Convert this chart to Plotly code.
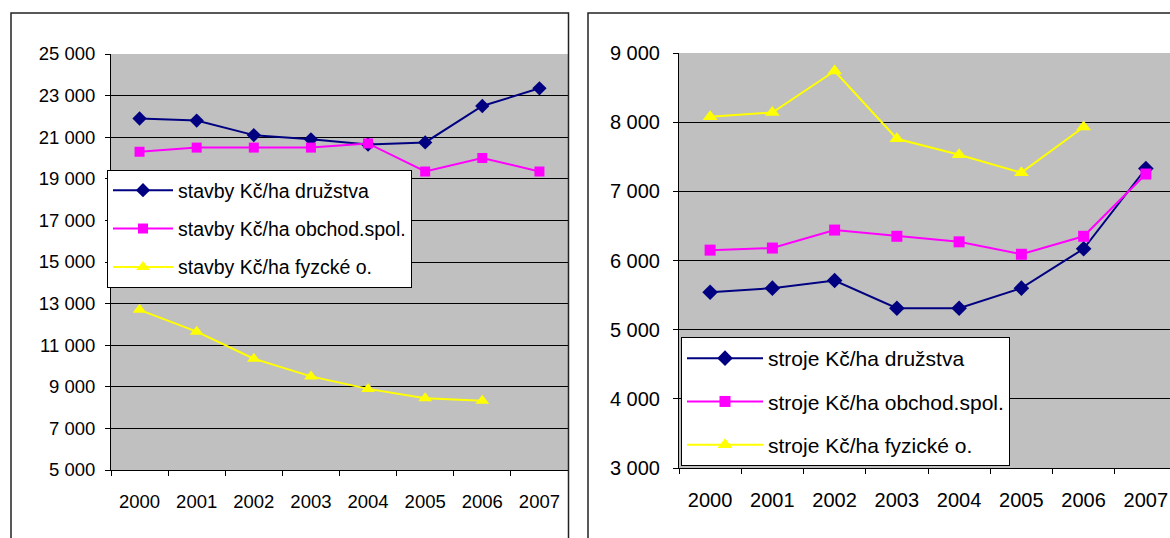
import plotly.graph_objects as go

years = ["2000", "2001", "2002", "2003", "2004", "2005", "2006", "2007"]

stavby_druzstva = [21900, 21800, 21100, 20900, 20650, 20750, 22500, 23350]
stavby_obchod = [20300, 20500, 20500, 20500, 20700, 19350, 20000, 19350]
stavby_fyzicke = [12700, 11650, 10350, 9500, 8900, 8450, 8330, None]

stroje_druzstva = [5540, 5600, 5710, 5310, 5310, 5600, 6170, 7330]
stroje_obchod = [6150, 6180, 6440, 6350, 6270, 6090, 6350, 7250]
stroje_fyzicke = [8080, 8140, 8740, 7760, 7530, 7270, 7930, None]

names_left = ["stavby Kč/ha družstva", "stavby Kč/ha obchod.spol.", "stavby Kč/ha fyzcké o."]
names_right = ["stroje Kč/ha družstva", "stroje Kč/ha obchod.spol.", "stroje Kč/ha fyzické o."]

colors = ["#000080", "#FF00FF", "#FFFF00"]
symbols = ["diamond", "square", "triangle-up"]
msizes = [11, 10, 12]

W, H = 1170, 538
FONT = "Liberation Sans, Arial, sans-serif"

def px(x):
    return x / W

def py(y):
    return 1 - y / H

fig = go.Figure()

for i, (vals, name) in enumerate(zip([stavby_druzstva, stavby_obchod, stavby_fyzicke], names_left)):
    fig.add_trace(go.Scatter(
        x=years, y=vals, name=name, mode="lines+markers",
        line=dict(color=colors[i], width=2),
        marker=dict(symbol=symbols[i], size=msizes[i], color=colors[i], line=dict(width=0)),
        xaxis="x", yaxis="y", legend="legend", legendgroup="L%d" % i,
    ))

for i, (vals, name) in enumerate(zip([stroje_druzstva, stroje_obchod, stroje_fyzicke], names_right)):
    fig.add_trace(go.Scatter(
        x=years, y=vals, name=name, mode="lines+markers",
        line=dict(color=colors[i], width=2),
        marker=dict(symbol=symbols[i], size=msizes[i] + 1, color=colors[i], line=dict(width=0)),
        xaxis="x2", yaxis="y2", legend="legend2", legendgroup="R%d" % i,
    ))

axis_common = dict(
    showline=True, linecolor="black", linewidth=1,
    ticks="outside", ticklen=5, tickcolor="black",
    color="black", zeroline=False, automargin=False,
)

fig.update_layout(
    template="none",
    width=W, height=H, autosize=False,
    margin=dict(l=0, r=0, t=0, b=0, pad=0, autoexpand=False),
    paper_bgcolor="white",
    plot_bgcolor="#C0C0C0",
    separators=". ",
    font=dict(family=FONT, color="black"),
    xaxis=dict(
        domain=[px(111), px(568)], anchor="y", type="category",
        categoryorder="array", categoryarray=years,
        range=[-0.5, 7.5], tickson="boundaries", showgrid=False,
        tickfont=dict(size=18.5, family=FONT), ticklabelstandoff=15,
        **axis_common,
    ),
    yaxis=dict(
        domain=[py(470), py(54)], anchor="x",
        range=[5000, 25000], dtick=2000, tick0=5000, tickformat=",d",
        showgrid=True, gridcolor="black", gridwidth=1,
        tickfont=dict(size=18.5, family=FONT), ticklabelstandoff=6,
        **axis_common,
    ),
    xaxis2=dict(
        domain=[px(679), 1.0], anchor="y2", type="category",
        categoryorder="array", categoryarray=years,
        range=[-0.5, -0.5 + (W - 679) / 62.25], tickson="boundaries", showgrid=False,
        tickfont=dict(size=20, family=FONT), ticklabelstandoff=14,
        **axis_common,
    ),
    yaxis2=dict(
        domain=[py(468), py(53)], anchor="x2",
        range=[3000, 9000], dtick=1000, tick0=3000, tickformat=",d",
        showgrid=True, gridcolor="black", gridwidth=1,
        tickfont=dict(size=20, family=FONT), ticklabelstandoff=9,
        **axis_common,
    ),
    legend=dict(
        x=px(107), y=py(170), xanchor="left", yanchor="top",
        bgcolor="white", bordercolor="black", borderwidth=1,
        font=dict(size=19.5, family=FONT, color="black"),
        tracegroupgap=10, itemwidth=60, traceorder="grouped",
    ),
    legend2=dict(
        x=px(681), y=py(337), xanchor="left", yanchor="top",
        bgcolor="white", bordercolor="black", borderwidth=1,
        font=dict(size=21, family=FONT, color="black"),
        tracegroupgap=13, itemwidth=76, traceorder="grouped",
    ),
    shapes=[
        dict(type="rect", xref="paper", yref="paper",
             x0=px(11), x1=px(568.5), y0=py(560), y1=py(13),
             line=dict(color="#222222", width=1.5), fillcolor="rgba(0,0,0,0)", layer="above"),
        dict(type="rect", xref="paper", yref="paper",
             x0=px(588), x1=px(1200), y0=py(560), y1=py(13),
             line=dict(color="#222222", width=1.5), fillcolor="rgba(0,0,0,0)", layer="above"),
    ],
)

fig.write_html("out.html", config={"displayModeBar": False},
               post_script="document.body.style.margin='0';document.body.style.overflow='hidden';")
